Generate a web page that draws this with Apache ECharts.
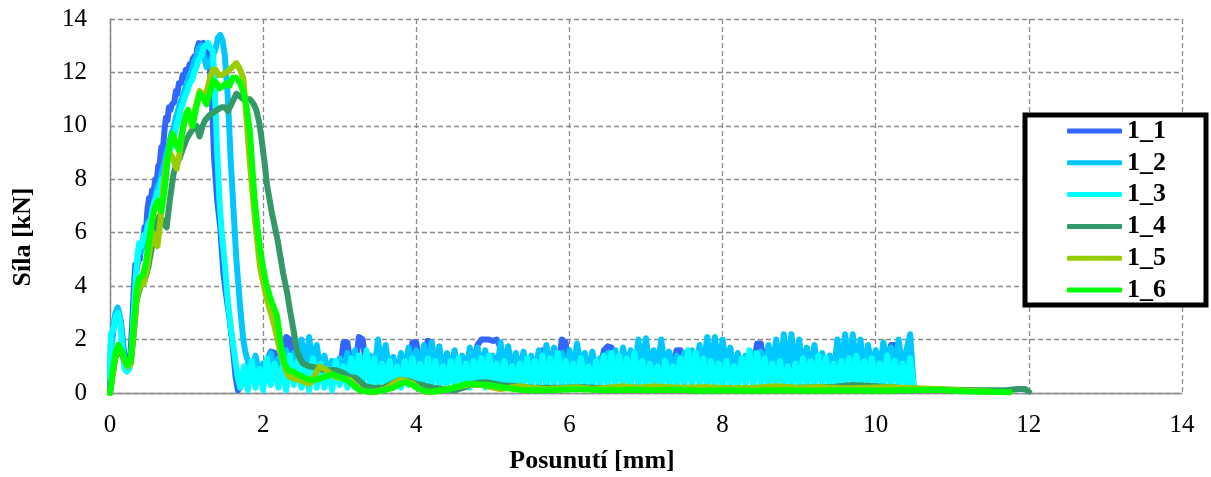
<!DOCTYPE html>
<html>
<head>
<meta charset="utf-8">
<script src="https://cdn.jsdelivr.net/npm/echarts@6/dist/echarts.min.js"></script>
<style>
  html, body { margin: 0; padding: 0; background: #fff; }
  #chart { width: 1211px; height: 477px; }
</style>
</head>
<body>
<div id="chart"></div>
<script>
// Force–displacement records of six specimens (displacement in mm, force in kN)
const seriesNames = ['1_1', '1_2', '1_3', '1_4', '1_5', '1_6'];
const seriesColors = ['#3366FF', '#00C8FF', '#00FFFF', '#339966', '#99CC00', '#00FF00'];
const xTickValues = [0, 2, 4, 6, 8, 10, 12, 14];
const yTickValues = [0, 2, 4, 6, 8, 10, 12, 14];

// sampling step of the residual (post-failure) part of the records
const NOISE_STEP = 0.05;

// 1_1 : loading branch + failure
const s11Head = [[0,0],[0.01,1.8],[0.03,2.1],[0.05,2.6],[0.07,2.9],[0.1,3.1],[0.12,2.9],[0.14,2.7],[0.16,2.2],[0.19,1.3],
  [0.22,1.0],[0.25,1.1],[0.27,1.6],[0.29,2.6],[0.31,3.9],[0.33,4.8],[0.35,4.6],[0.37,5.1],[0.39,5.0],[0.41,5.6],
  [0.43,5.5],[0.45,6.2],[0.47,6.1],[0.49,6.9],[0.51,7.3],[0.53,7.2],[0.55,7.6],[0.57,7.5],[0.59,8.0],[0.61,7.9],
  [0.63,8.5],[0.65,8.6],[0.67,9.2],[0.69,9.1],[0.71,9.8],[0.73,10.3],[0.75,10.2],[0.77,10.7],[0.79,10.6],[0.81,10.8],
  [0.84,10.9],[0.86,11.3],[0.88,11.2],[0.9,11.6],[0.93,11.6],[0.95,11.9],[0.97,11.8],[0.99,12.1],[1.02,12.1],[1.04,12.3],
  [1.06,12.2],[1.08,12.5],[1.1,12.6],[1.12,12.5],[1.14,12.9],[1.16,13.1],[1.19,13.0],[1.22,13.1],[1.25,13.0],[1.28,12.8],
  [1.3,12.4],[1.33,11.0],[1.36,8.8],[1.4,7.2],[1.44,6.2],[1.48,4.5],[1.52,3.6],[1.56,2.8],[1.6,1.8],[1.64,0.6],
  [1.67,0.1]];
// 1_1 : residual friction part, from 1.70 mm
const s11NoiseStart = 1.70;
const s11Noise = [
  0.2,0.8,0.3,1.0,0.4,0.9,0.5,1.2,1.55,1.5,0.8,1.0,2.1,2.0,0.7,1.0,0.5,0.9,0.6,1.0,
  0.5,0.9,0.6,1.0,0.7,1.1,0.8,1.9,1.9,0.9,0.8,2.1,2.0,0.9,0.7,1.0,0.8,1.1,0.6,1.0,
  0.7,1.1,0.8,1.3,0.9,1.9,1.9,0.9,1.3,1.95,1.9,0.8,1.0,0.7,1.1,0.6,1.0,0.8,1.2,0.7,
  1.0,1.2,1.8,2.0,2.0,2.0,1.95,2.0,1.7,0.9,1.0,0.7,1.1,0.8,1.0,0.7,1.2,0.9,1.3,1.6,
  1.6,0.9,1.1,0.8,2.0,1.9,0.8,1.0,0.7,1.1,0.8,1.0,0.9,1.2,0.8,1.6,1.75,1.7,0.9,1.0,
  0.8,1.1,0.7,1.0,0.8,1.2,0.7,1.1,0.8,1.0,0.9,1.2,0.8,1.1,1.6,1.6,0.9,1.0,0.8,1.1,
  0.7,1.0,0.8,1.2,0.9,1.1,0.7,1.0,0.8,1.1,0.9,1.3,0.8,1.2,0.9,1.85,1.85,1.0,0.8,1.1,
  0.9,1.2,0.8,1.0,0.9,1.1,0.7,1.0,0.8,1.2,0.9,1.1,0.8,1.0,0.9,1.2,0.8,1.1,0.9,1.0,
  0.8,1.1,0.9,1.2,0.8,1.0,0.9,1.1,0.8,1.2,1.8,1.8,1.0,0.9,1.1,0.8,0.1];

// 1_2
const s12Head = [[0,0.5],[0.01,1.5],[0.03,2.0],[0.05,2.5],[0.07,3.0],[0.1,3.2],[0.12,3.0],[0.14,2.6],[0.16,2.0],[0.19,1.2],
  [0.22,0.9],[0.25,1.0],[0.28,1.5],[0.3,2.2],[0.32,3.6],[0.34,4.5],[0.36,4.9],[0.38,5.4],[0.41,5.3],[0.44,5.8],
  [0.47,6.0],[0.5,6.4],[0.53,6.5],[0.56,7.0],[0.59,7.3],[0.62,7.7],[0.65,7.9],[0.68,8.3],[0.71,8.6],[0.74,9.0],
  [0.77,9.3],[0.8,9.7],[0.83,9.9],[0.86,10.3],[0.89,10.6],[0.92,10.9],[0.95,11.1],[0.98,11.4],[1.01,11.6],[1.04,11.9],
  [1.07,12.1],[1.1,12.4],[1.13,12.6],[1.16,12.9],[1.19,13.0],[1.22,12.7],[1.26,12.2],[1.3,12.3],[1.34,12.6],[1.38,12.9],
  [1.41,13.3],[1.44,13.4],[1.47,13.2],[1.5,12.6],[1.54,11.0],[1.58,8.5],[1.61,7.0],[1.65,5.0],[1.7,3.2],[1.74,2.0],
  [1.77,1.5]];
const s12NoiseStart = 1.80;
const s12Noise = [
  1.2,0.6,1.4,0.7,1.1,0.5,1.5,0.8,1.3,0.6,1.6,0.9,1.5,0.7,2.0,0.9,2.1,1.0,1.8,0.8,
  1.4,0.7,1.2,0.6,1.3,0.8,1.5,0.7,1.6,0.9,1.3,0.7,1.4,0.8,2.0,1.0,1.8,0.8,1.35,0.6,
  1.5,0.8,1.7,0.9,1.6,0.7,1.8,0.9,1.9,0.8,1.75,0.7,1.5,0.8,1.6,0.7,1.4,0.8,1.7,0.9,
  1.7,0.9,1.6,0.8,1.4,0.7,1.9,0.9,1.75,0.8,1.5,0.7,1.55,0.8,1.4,0.7,1.6,0.8,1.8,0.9,
  1.7,0.8,1.5,0.7,1.6,0.8,1.85,0.9,1.5,0.7,1.55,0.8,1.3,0.7,1.5,0.8,1.6,0.7,1.7,0.9,
  1.6,0.8,2.0,0.9,2.05,0.8,1.6,0.9,2.0,0.8,1.55,0.7,1.4,0.8,1.5,0.7,1.6,0.8,1.8,0.9,
  2.1,0.9,2.1,0.8,2.0,0.9,1.7,0.8,1.5,0.7,1.4,0.8,1.5,0.7,1.55,0.8,1.8,0.9,2.0,0.9,
  2.2,0.9,2.2,0.8,2.0,0.9,1.7,0.8,1.8,0.7,1.5,0.8,1.4,0.7,2.0,0.9,2.2,0.8,2.2,0.9,
  2.0,0.8,1.8,0.9,1.6,0.8,1.9,0.8,1.7,0.9,2.0,0.8,1.6,2.2,0.1];

// 1_3
const s13Head = [[0,0.6],[0.01,2.2],[0.03,2.3],[0.05,2.5],[0.07,2.8],[0.1,3.0],[0.12,2.8],[0.14,2.4],[0.16,1.6],[0.19,0.9],
  [0.22,0.8],[0.25,0.9],[0.28,1.4],[0.3,2.4],[0.32,3.4],[0.34,4.4],[0.36,5.2],[0.38,5.6],[0.41,5.5],[0.44,5.9],
  [0.47,5.8],[0.5,6.3],[0.53,6.4],[0.56,6.9],[0.59,7.2],[0.62,7.5],[0.65,7.6],[0.68,8.0],[0.71,8.1],[0.74,8.5],
  [0.77,8.9],[0.8,9.3],[0.83,9.5],[0.86,9.9],[0.89,10.2],[0.92,10.6],[0.95,10.8],[0.98,11.1],[1.01,11.3],[1.04,11.6],
  [1.07,11.7],[1.1,12.0],[1.13,12.2],[1.16,12.5],[1.19,12.6],[1.22,12.9],[1.25,13.0],[1.28,13.1],[1.31,12.9],[1.34,12.8],
  [1.36,12.0],[1.38,10.5],[1.4,9.0],[1.43,7.2],[1.46,6.0],[1.5,4.8],[1.54,3.4],[1.58,2.4],[1.62,1.6],[1.66,0.7],
  [1.7,0.2]];
const s13NoiseStart = 1.75;
const s13Noise = [
  1.0,0.1,1.2,0.2,0.9,0.1,1.3,0.3,1.1,0.2,1.0,0.1,1.4,0.3,1.2,0.2,1.0,0.1,1.3,0.2,
  1.1,0.2,0.9,0.1,1.2,0.3,1.0,0.2,1.3,0.2,1.4,0.3,1.6,0.2,1.3,0.2,1.1,0.3,1.2,0.2,
  1.0,0.2,1.2,0.3,1.3,0.2,1.1,0.3,1.3,0.2,1.2,0.3,1.0,0.2,1.2,0.3,1.3,0.2,1.1,0.2,
  1.2,0.3,1.3,0.2,1.4,0.3,1.1,0.2,1.2,0.3,1.0,0.2,1.1,0.3,1.3,0.2,1.2,0.3,1.4,0.2,
  1.3,0.3,1.5,0.2,1.2,0.3,1.1,0.2,1.3,0.3,1.0,0.2,1.2,0.3,1.4,0.2,1.5,0.3,1.4,0.2,
  1.3,0.2,1.5,0.3,1.2,0.2,1.1,0.3,1.0,0.2,1.2,0.3,1.0,0.2,1.3,0.3,1.6,0.2,1.5,0.3,
  1.3,0.2,1.2,0.3,1.1,0.2,1.2,0.3,1.0,0.2,1.3,0.3,1.6,0.2,1.5,0.3,1.3,0.2,1.1,0.3,
  1.2,0.2,1.0,0.3,1.1,0.2,1.3,0.3,1.2,0.2,1.4,0.3,1.3,0.2,1.1,0.3,1.2,0.2,1.3,0.3,
  1.4,0.2,1.2,0.3,1.3,0.2,1.1,0.3,1.4,0.2,1.2,0.3,1.1,0.2,1.3,0.1];

// 1_4
const s14Data = [[0,0],[0.03,0.6],[0.07,1.3],[0.11,1.6],[0.15,1.5],[0.19,1.2],[0.23,1.0],[0.27,1.1],[0.31,2.2],[0.35,3.5],
  [0.4,4.0],[0.45,4.2],[0.5,4.7],[0.55,5.5],[0.6,6.2],[0.64,6.6],[0.68,6.5],[0.71,6.3],[0.74,6.2],[0.78,7.2],
  [0.83,8.2],[0.87,8.6],[0.91,8.8],[0.96,9.2],[1.0,9.5],[1.04,9.7],[1.09,9.9],[1.13,10.0],[1.17,9.6],[1.21,10.0],
  [1.24,10.2],[1.3,10.4],[1.35,10.5],[1.4,10.6],[1.46,10.7],[1.5,10.7],[1.54,10.55],[1.6,10.9],[1.65,11.2],[1.7,11.1],
  [1.74,11.0],[1.83,11.0],[1.88,10.8],[1.91,10.6],[1.95,10.1],[1.98,9.5],[2.02,8.6],[2.05,7.8],[2.11,6.8],[2.19,5.7],
  [2.26,4.5],[2.31,3.8],[2.35,3.1],[2.4,2.3],[2.44,1.6],[2.48,1.3],[2.52,1.1],[2.6,1.0],[2.7,0.95],[2.78,0.86],
  [2.9,0.86],[2.96,0.85],[3.05,0.75],[3.13,0.6],[3.22,0.55],[3.3,0.35],[3.35,0.23],[3.45,0.2],[3.57,0.2],[3.68,0.35],
  [3.79,0.5],[3.9,0.45],[4.0,0.35],[4.1,0.28],[4.22,0.2],[4.35,0.15],[4.5,0.1],[4.62,0.2],[4.74,0.35],[4.85,0.4],
  [4.92,0.4],[5.1,0.3],[5.3,0.25],[5.5,0.2],[5.9,0.2],[6.2,0.22],[6.5,0.18],[6.9,0.2],[7.2,0.15],[7.5,0.2],
  [7.9,0.15],[8.3,0.18],[8.7,0.15],[9.0,0.2],[9.4,0.22],[9.7,0.3],[10.0,0.25],[10.3,0.2],[10.6,0.15],[11.0,0.12],
  [11.4,0.1],[11.7,0.1],[11.85,0.15],[11.95,0.15],[12.0,0.05]];

// 1_5
const s15Data = [[0,0],[0.03,0.6],[0.07,1.4],[0.11,1.7],[0.15,1.6],[0.19,1.2],[0.23,1.0],[0.27,1.1],[0.31,2.3],[0.35,3.6],
  [0.39,4.0],[0.44,4.1],[0.48,4.6],[0.52,5.4],[0.56,6.0],[0.59,5.6],[0.62,5.5],[0.66,6.5],[0.7,7.8],[0.74,8.7],
  [0.78,9.0],[0.82,8.8],[0.87,8.4],[0.91,9.0],[0.95,9.9],[1.0,10.5],[1.04,10.3],[1.07,10.0],[1.11,10.6],[1.17,11.3],
  [1.21,11.2],[1.24,11.0],[1.29,11.6],[1.34,12.1],[1.38,12.1],[1.42,11.9],[1.46,11.9],[1.52,12.0],[1.56,12.1],[1.6,12.2],
  [1.65,12.35],[1.7,12.1],[1.74,11.8],[1.78,10.4],[1.83,8.5],[1.89,6.6],[1.96,4.7],[2.05,3.5],[2.13,2.7],[2.18,2.1],
  [2.22,1.6],[2.27,1.1],[2.31,0.75],[2.35,0.6],[2.39,0.55],[2.45,0.5],[2.52,0.45],[2.58,0.35],[2.63,0.4],[2.68,0.7],
  [2.74,1.0],[2.8,0.9],[2.87,0.75],[2.95,0.6],[3.04,0.55],[3.13,0.5],[3.2,0.3],[3.27,0.12],[3.35,0.05],[3.48,0.05],
  [3.6,0.15],[3.7,0.35],[3.78,0.5],[3.87,0.45],[3.96,0.35],[4.04,0.15],[4.12,0.05],[4.25,0.06],[4.39,0.15],[4.52,0.22],
  [4.65,0.3],[4.78,0.32],[4.87,0.3],[5.0,0.2],[5.1,0.15],[5.22,0.2],[5.35,0.25],[5.5,0.2],[5.7,0.15],[5.9,0.18],
  [6.1,0.22],[6.3,0.15],[6.5,0.2],[6.7,0.25],[6.9,0.2],[7.1,0.25],[7.3,0.22],[7.5,0.2],[7.8,0.22],[8.1,0.18],
  [8.4,0.2],[8.7,0.25],[9.0,0.2],[9.3,0.22],[9.6,0.18],[9.9,0.2],[10.2,0.22],[10.5,0.18],[10.8,0.15],[11.1,0.1],
  [11.5,0.05]];

// 1_6
const s16Data = [[0,0],[0.03,0.7],[0.07,1.5],[0.11,1.8],[0.15,1.6],[0.19,1.3],[0.23,1.05],[0.27,1.2],[0.31,2.5],[0.35,3.9],
  [0.38,4.3],[0.43,4.4],[0.47,4.9],[0.51,5.7],[0.55,6.5],[0.59,7.0],[0.63,7.2],[0.67,6.8],[0.71,7.5],[0.75,8.7],
  [0.79,9.5],[0.82,9.7],[0.86,9.3],[0.9,9.1],[0.94,9.7],[0.98,10.3],[1.02,10.6],[1.05,10.3],[1.08,10.0],[1.12,10.6],
  [1.17,11.2],[1.21,11.1],[1.26,10.8],[1.3,11.2],[1.35,11.7],[1.39,11.6],[1.43,11.4],[1.48,11.5],[1.52,11.6],[1.56,11.5],
  [1.6,11.8],[1.65,11.8],[1.7,11.6],[1.75,11.2],[1.79,10.6],[1.83,9.7],[1.86,8.4],[1.89,7.2],[1.93,6.1],[1.96,5.4],
  [2.0,4.7],[2.04,4.1],[2.1,3.5],[2.18,2.9],[2.21,2.3],[2.24,1.6],[2.28,1.1],[2.33,0.85],[2.39,0.8],[2.45,0.7],
  [2.52,0.6],[2.6,0.5],[2.7,0.5],[2.8,0.6],[2.91,0.7],[3.0,0.6],[3.09,0.5],[3.17,0.3],[3.26,0.1],[3.35,0.06],
  [3.48,0.05],[3.6,0.12],[3.7,0.2],[3.8,0.35],[3.87,0.4],[3.95,0.3],[4.04,0.15],[4.13,0.06],[4.22,0.05],[4.33,0.1],
  [4.44,0.15],[4.55,0.25],[4.66,0.35],[4.8,0.32],[4.92,0.3],[5.05,0.25],[5.2,0.18],[5.35,0.12],[5.5,0.1],[5.7,0.1],
  [5.9,0.12],[6.1,0.15],[6.3,0.12],[6.5,0.1],[6.8,0.12],[7.1,0.1],[7.4,0.12],[7.7,0.08],[8.0,0.1],[8.4,0.08],
  [8.8,0.1],[9.2,0.08],[9.6,0.1],[10.0,0.08],[10.4,0.1],[10.8,0.12],[11.2,0.06],[11.5,0.05],[11.75,0.03]];

// joins a loading branch with an equally spaced residual record
function joinRecord(head, start, values) {
  const out = head.slice();
  values.forEach((v, i) => out.push([+(start + i * NOISE_STEP).toFixed(2), v]));
  return out;
}

const seriesData = [
  joinRecord(s11Head, s11NoiseStart, s11Noise),
  joinRecord(s12Head, s12NoiseStart, s12Noise),
  joinRecord(s13Head, s13NoiseStart, s13Noise),
  s14Data,
  s15Data,
  s16Data
];

const SERIF = '"Liberation Serif", "Times New Roman", serif';
const gridColor = '#8a8a8a';

const chart = echarts.init(document.getElementById('chart'), null, { renderer: 'canvas' });
chart.setOption({
  animation: false,
  backgroundColor: '#ffffff',
  grid: { left: 110, right: 29, top: 19, bottom: 84, containLabel: false },
  xAxis: {
    type: 'value',
    min: xTickValues[0],
    max: xTickValues[xTickValues.length - 1],
    interval: xTickValues[1] - xTickValues[0],
    axisLine: { show: true, onZero: false, lineStyle: { color: gridColor, width: 1.4 } },
    axisTick: { show: false },
    axisLabel: { margin: 20, fontFamily: SERIF, fontSize: 25, color: '#000' },
    splitLine: { show: true, lineStyle: { color: gridColor, width: 1.3, type: [5, 3] } }
  },
  yAxis: {
    type: 'value',
    min: yTickValues[0],
    max: yTickValues[yTickValues.length - 1],
    interval: yTickValues[1] - yTickValues[0],
    axisLine: { show: true, onZero: false, lineStyle: { color: gridColor, width: 1.4 } },
    axisTick: { show: false },
    axisLabel: { margin: 23, fontFamily: SERIF, fontSize: 25, color: '#000' },
    splitLine: { show: true, lineStyle: { color: gridColor, width: 1.3, type: [5, 3] } }
  },
  legend: {
    orient: 'vertical',
    left: 1025,
    top: 115,
    icon: 'roundRect',
    itemWidth: 55,
    itemHeight: 5,
    itemGap: 5.8,
    padding: [3, 40, 2, 42],
    borderColor: '#000',
    borderWidth: 5,
    backgroundColor: '#fff',
    textStyle: { fontFamily: SERIF, fontWeight: 'bold', fontSize: 26, lineHeight: 26, color: '#000' },
    data: seriesNames
  },
  graphic: [
    {
      type: 'text', x: 23, y: 237, rotation: Math.PI / 2,
      style: { text: 'Síla [kN]', font: 'bold 26px ' + SERIF, fill: '#000', textAlign: 'center', textVerticalAlign: 'middle' }
    },
    {
      type: 'text', x: 592, y: 461,
      style: { text: 'Posunutí [mm]', font: 'bold 26px ' + SERIF, fill: '#000', textAlign: 'center', textVerticalAlign: 'middle' }
    }
  ],
  series: seriesNames.map((name, i) => ({
    name,
    type: 'line',
    data: seriesData[i],
    showSymbol: false,
    symbol: 'none',
    color: seriesColors[i],
    lineStyle: { color: seriesColors[i], width: 6, cap: 'round', join: 'round' },
    emphasis: { disabled: true }
  }))
});
</script>
</body>
</html>
